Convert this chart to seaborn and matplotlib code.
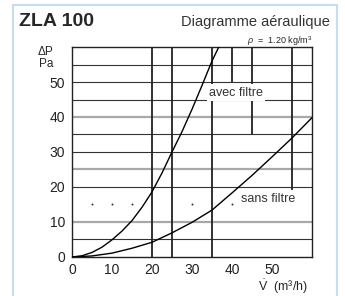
import numpy as np
import pandas as pd
import seaborn as sns
import matplotlib.pyplot as plt
from matplotlib.patches import Rectangle

# debit (m3/h) / perte de charge (Pa)
v_avec = [0, 2.5, 5, 7.5, 10, 12.5, 15, 17.5, 20, 22.5, 25, 27.5, 30, 32.5, 35, 36.7]
dp_avec = [0, 0.35, 1.3, 2.8, 4.9, 7.4, 10.4, 14.2, 18.6, 24.0, 30.0, 35.8, 42.2, 49.0, 56.0, 60.0]
v_sans = [0, 5, 10, 15, 20, 25, 30, 35, 40, 45, 50, 55, 60]
dp_sans = [0, 0.3, 1.1, 2.5, 4.2, 6.9, 9.9, 13.4, 18.3, 23.3, 28.6, 34.0, 39.8]

grid_dark = [5, 20, 30, 35, 45, 50, 55]
grid_gray = [10, 25, 40]
dot_x = [5, 10, 15, 30, 40, 50]
dot_y = [15, 15, 15, 15, 15, 15]

vl_x = [20, 25, 35, 40, 45, 55]
vl_ymin = [0, 0, 0, 50, 35, 16]

x_ticks = [0, 10, 20, 30, 40, 50]
y_ticks = [0, 10, 20, 30, 40, 50]

sns.set_style("white")
plt.rcParams['font.family'] = ['Liberation Sans', 'DejaVu Sans']
plt.rcParams['mathtext.fontset'] = 'custom'
plt.rcParams['mathtext.rm'] = 'Liberation Sans'
plt.rcParams['mathtext.it'] = 'Liberation Sans:italic'

fig = plt.figure(figsize=(3.45, 2.96), dpi=100)
ax = fig.add_axes([0.2087, 0.1318, 0.6956, 0.7094])

# cadre bleu clair
fig.patches.append(Rectangle((13 / 345, -0.1), 324 / 345, 1.1 - 5 / 296, transform=fig.transFigure,
                             fill=False, edgecolor="#c6ddef", linewidth=1.5))

for y in grid_dark:
    ax.axhline(y, color="#333333", lw=0.8, zorder=1)
for y in grid_gray:
    ax.axhline(y, color="#a8a8a8", lw=1.6, zorder=1)
sns.scatterplot(x=dot_x, y=dot_y, ax=ax, s=2, color="#333333", linewidth=0, zorder=1)

for x, y0 in zip(vl_x, vl_ymin):
    ax.vlines(x, y0, 60, color="#222222", lw=1.3, zorder=2)

df_avec = pd.DataFrame({"V": v_avec, "dP": dp_avec})
df_sans = pd.DataFrame({"V": v_sans, "dP": dp_sans})
sns.lineplot(data=df_avec, x="V", y="dP", ax=ax, color="black", lw=1.0, zorder=3)
sns.lineplot(data=df_sans, x="V", y="dP", ax=ax, color="black", lw=1.0, zorder=3)

ax.text(41, 47, "avec filtre", fontsize=9, color="#333333", ha="center", va="center",
        bbox=dict(facecolor="white", edgecolor="none", pad=1.5), zorder=4)
ax.text(49, 16.7, "sans filtre", fontsize=9, color="#333333", ha="center", va="center",
        bbox=dict(facecolor="white", edgecolor="none", pad=1.5), zorder=4)

ax.set_xlim(0, 60)
ax.set_ylim(0, 60)
ax.set_xticks(x_ticks)
ax.set_yticks(y_ticks)
ax.tick_params(axis="y", length=3, width=0.8, labelsize=10, pad=2, colors="#222222")
ax.tick_params(axis="x", length=0, labelsize=10, pad=4, colors="#222222")
ax.set_xlabel("")
ax.set_ylabel("")
for s in ax.spines.values():
    s.set_color("#222222")
    s.set_linewidth(1.0)

fig.text(19 / 345, 1 - 22 / 296, "ZLA 100", fontsize=14, fontweight="bold", va="center", ha="left")
fig.text(330 / 345, 1 - 22 / 296, "Diagramme aéraulique", fontsize=10.5, va="center", ha="right",
         color="#333333")
fig.text(312 / 345, 1 - 41 / 296, r"$\rho$  =  1.20 kg/m$^3$", fontsize=6.5, va="center", ha="right")
fig.text(46 / 345, 1 - 58 / 296, "ΔP\nPa", fontsize=8.5, va="center", ha="center", linespacing=0.9)
fig.text(308 / 345, 1 - 287 / 296, r"$\dot{\mathrm{V}}$  (m³/h)", fontsize=9, va="center", ha="right")

fig.savefig("out.png", dpi=100)
